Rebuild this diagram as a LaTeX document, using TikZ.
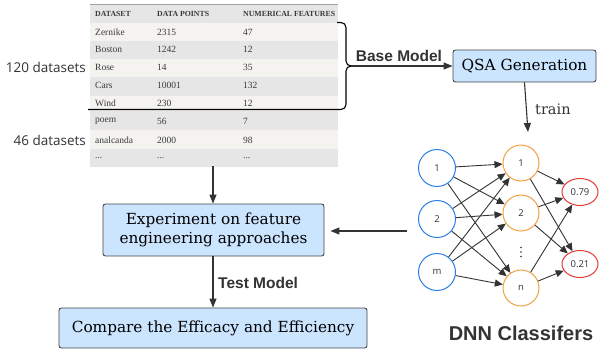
\documentclass[tikz,border=0pt]{standalone}
\usepackage{fontspec}
\usetikzlibrary{arrows.meta,positioning,shapes.geometric}
\newfontfamily\boxfont{DejaVu Serif}
\newfontfamily\tabfont{Liberation Serif}
\newfontfamily\lblfont{Open Sans}
\newfontfamily\boldsans{Liberation Sans}
\definecolor{boxfill}{HTML}{CCE5FF}
\definecolor{boxline}{HTML}{444444}
\definecolor{arr}{HTML}{333333}
\definecolor{rowlight}{HTML}{F4F3F0}
\definecolor{rowgrey}{HTML}{E6E6E6}
\definecolor{tabtext}{HTML}{3A3A3A}
\definecolor{nblue}{HTML}{2A80E4}
\definecolor{norange}{HTML}{F2A043}
\definecolor{nred}{HTML}{E23A3A}
\tikzset{
  procbox/.style={draw=boxline, line width=0.9pt, fill=boxfill, rounded corners=2.5pt, font=\boxfont\fontsize{15.3}{19}\selectfont, align=center, inner sep=0pt},
  conn/.style={draw=arr, line width=1.1pt, -{Triangle[length=9pt,width=7pt]}},
  nnarr/.style={draw=arr, line width=0.9pt, -{Triangle[length=8pt,width=7pt]}},
  inode/.style={circle, draw=nblue, line width=1pt, minimum size=37pt, inner sep=0pt, font=\lblfont\fontsize{9.5}{11}\selectfont, text=arr},
  hnode/.style={circle, draw=norange, line width=1pt, minimum size=36pt, inner sep=0pt, font=\lblfont\fontsize{9.5}{11}\selectfont, text=arr},
  onode/.style={ellipse, draw=nred, line width=1pt, minimum width=36pt, minimum height=27pt, inner sep=0pt, font=\lblfont\fontsize{9.5}{11}\selectfont, text=arr},
  tabtxt/.style={anchor=west, text=tabtext, font=\tabfont\fontsize{9.5}{11}\selectfont, inner sep=0pt},
  tabhead/.style={anchor=west, text=tabtext, font=\tabfont\bfseries\fontsize{7.8}{9}\selectfont, inner sep=0pt},
  sidelbl/.style={anchor=east, text=arr, font=\lblfont\fontsize{13.5}{16}\selectfont, inner sep=0pt},
  edgelbl/.style={text=arr, font=\boldsans\bfseries\fontsize{15.5}{18}\selectfont, inner sep=0pt},
}
\begin{document}
\begin{tikzpicture}[x=1pt,y=-1pt]
\useasboundingbox (0,0) rectangle (599,354);
\fill[white] (0,0) rectangle (599,354);
% table rows
\fill[rowgrey] (90,4) rectangle (338,22.5);
\foreach \t/\c in {22.5/rowlight,40.8/rowgrey,59.1/rowlight,77.4/rowgrey,95.7/rowlight,111/rowgrey,130/rowlight,148.5/rowgrey}{
  \fill[\c] (90,\t) rectangle (338,\t+18.7);
}
\draw[rowgrey!70!black, line width=0.6pt] (90,4) -- (338,4);
\node[tabhead] at (95,13.5) {DATASET};
\node[tabhead] at (157,13.5) {DATA POINTS};
\node[tabhead] at (243,13.5) {NUMERICAL FEATURES};
\foreach \y/\a/\b/\c in {32/Zernike/2315/47, 49.5/Boston/1242/12, 67.5/Rose/14/35, 85.5/Cars/10001/132, 103.5/Wind/230/12, 121/poem/56/7, 140/analcanda/2000/98, 158.5/{...}/{...}/{...}}{
  \node[tabtxt] at (95,\y) {\a};
  \node[tabtxt] at (157,\y) {\b};
  \node[tabtxt] at (243,\y) {\c};
}
\coordinate (tabbot) at (213,166);
% side labels
\node[sidelbl] (l120) at (86,67) {120 datasets};
\node[sidelbl] (l46) at (86,140) {46 datasets};
% divider and brace
\draw[black, line width=1.1pt] (88,109.5) -- (341,109.5) to[out=0,in=-90] (346,104.5) -- (346,71) to[out=90,in=180] (351,66);
\draw[black, line width=1.1pt] (337,22.5) -- (341,22.5) to[out=0,in=90] (346,27.5) -- (346,61) to[out=-90,in=180] (351,66);
\coordinate (bracetip) at (351,66);
% boxes
\node[procbox, minimum width=143pt, minimum height=32pt] (qsa) at (524.5,66) {QSA Generation};
\node[procbox, minimum width=221pt, minimum height=52pt] (exp) at (213.5,230) {Experiment on feature\\engineering approaches};
\node[procbox, minimum width=308pt, minimum height=40pt] (cmp) at (213,328) {Compare the Efficacy and Efficiency};
% NN
\node[inode] (i1) at (437,168) {1};
\node[inode] (i2) at (437,219) {2};
\node[inode] (im) at (437,272) {m};
\node[hnode] (h1) at (521,163) {1};
\node[hnode] (h2) at (521,213) {2};
\node[hnode] (hn) at (521,288) {n};
\foreach \dy in {-4.5,0,4.5}{\fill[arr] (521,252+\dy) circle (0.9pt);}
\node[onode] (o1) at (580,192) {0.79};
\node[onode] (o2) at (580,264) {0.21};
\foreach \a in {i1,i2,im}{\foreach \b in {h1,h2,hn}{\draw[nnarr] (\a) -- (\b);}}
\foreach \a in {h1,h2,hn}{\foreach \b in {o1,o2}{\draw[nnarr] (\a) -- (\b);}}
\node[font=\boldsans\bfseries\fontsize{20}{24}\selectfont, text=arr, inner sep=0pt] (dnn) at (521,333) {DNN Classifers};
\coordinate (nnleft) at (407,231);
\coordinate (traintip) at (528,132);
% connectors
\draw[conn] (bracetip) -- (qsa.west);
\node[edgelbl, anchor=south] (bm) at (399,62) {Base Model};
\draw[conn] (qsa.south) -- (traintip);
\node[anchor=west, text=arr, font=\boxfont\fontsize{14.5}{17}\selectfont, inner sep=0pt] (tr) at (535,109) {train};
\draw[conn, shorten >=6pt] (nnleft) -- (exp.east |- nnleft);
\draw[conn] (tabbot) -- (exp.north -| tabbot);
\draw[conn] (exp.south -| tabbot) -- (cmp.north -| tabbot);
\node[edgelbl, anchor=west] (tm) at (218,283) {Test Model};
\end{tikzpicture}
\end{document}
